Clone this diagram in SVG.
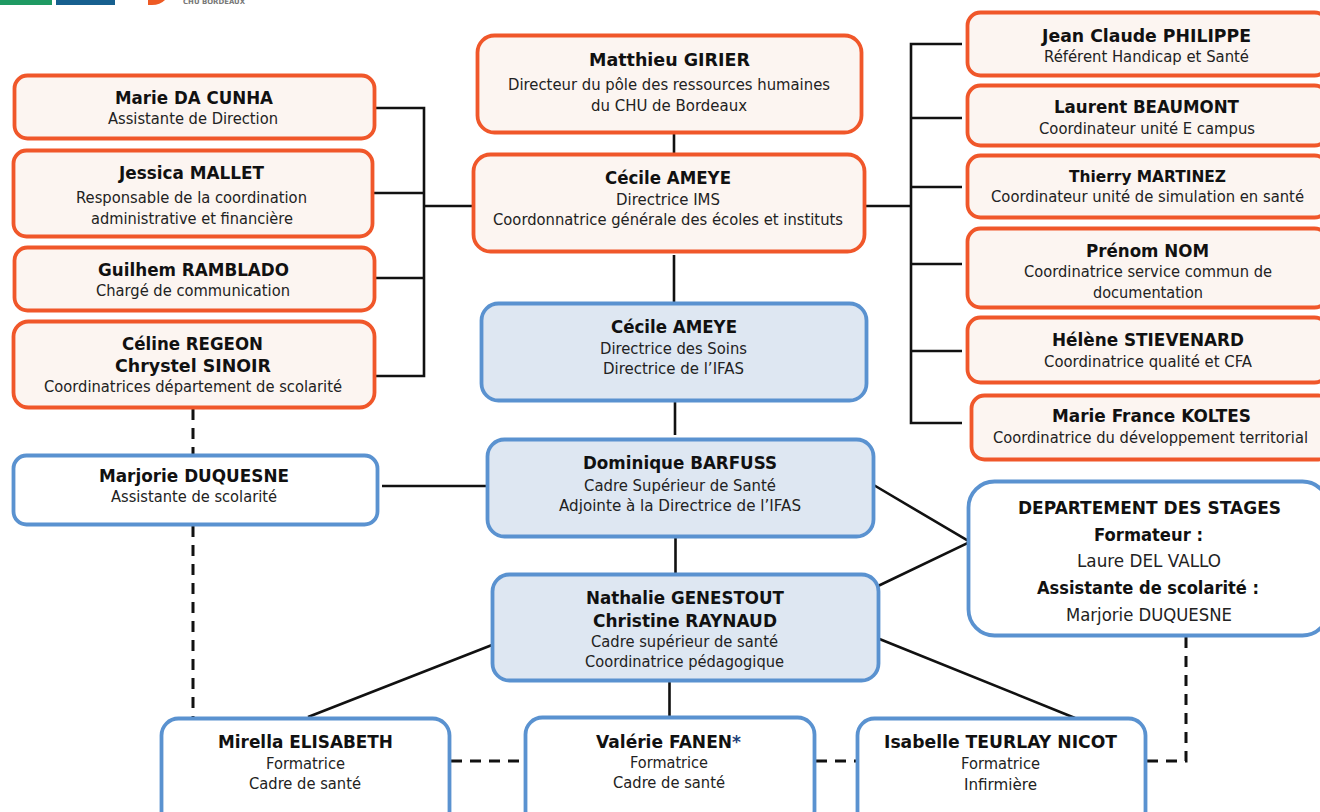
<svg xmlns="http://www.w3.org/2000/svg" width="1320" height="812" viewBox="0 0 1320 812">
<style>
text{font-family:"DejaVu Sans","Liberation Sans",sans-serif;text-anchor:middle;fill:#222}
.n{font-size:18px;font-weight:700;fill:#111}
.t{font-size:16px;font-weight:700;fill:#111}
.s{font-size:15px}
.r{font-size:17.500px}
.o{fill:#fcf5f1;stroke:#f0572a;stroke-width:3.800}
.b{fill:#dee7f2;stroke:#5a92d0;stroke-width:3.800}
.w{fill:#fff;stroke:#5a92d0;stroke-width:3.800}
#connectors path{fill:none;stroke:#111;stroke-width:2.600}
#connectors .d{stroke-width:3;stroke-dasharray:11 8}
</style>
<rect width="1320" height="812" fill="#fff"/>
<g id="logos">
<rect x="0" y="0" width="52" height="5" fill="#1f9a63"/>
<rect x="56" y="0" width="59" height="5" fill="#17608f"/>
<path d="M148 0H165Q160 5 152 5H148Z" fill="#ee5a24"/>
<text x="214" y="4" font-size="7" font-weight="700" textLength="62" lengthAdjust="spacingAndGlyphs" style="fill:#777">CHU BORDEAUX</text>
</g>
<g id="connectors">
<path d="M376 108H424V376H376M374 193H424M376 278H424M424 206H472"/>
<path d="M674 134V153M674 255V302M675 402V435M675.500 538V573M669.500 682V716"/>
<path d="M962 44H911V423H962M866 206H911M962 118H911M962 187H911M962 264H911M962 351H911"/>
<path d="M382 486H486"/>
<path d="M872 484L970 542L878 586M877 638L1075 718M492 645L308 717"/>
<path class="d" d="M193 409V454M193 526V717M451 761H524M816 761H856M1186 637V761H1147"/>
</g>
<g id="n-dacunha"><rect class="o" x="14.500" y="75.500" width="360" height="63" rx="13"/><text class="n" x="194" y="104" textLength="158" lengthAdjust="spacingAndGlyphs">Marie DA CUNHA</text><text class="s" x="193" y="124" textLength="170" lengthAdjust="spacingAndGlyphs">Assistante de Direction</text></g>
<g id="n-mallet"><rect class="o" x="13.500" y="150.500" width="359" height="86" rx="13"/><text class="n" x="191.500" y="179" textLength="145" lengthAdjust="spacingAndGlyphs">Jessica MALLET</text><text class="s" x="191.500" y="203" textLength="231" lengthAdjust="spacingAndGlyphs">Responsable de la coordination</text><text class="s" x="192" y="224" textLength="202" lengthAdjust="spacingAndGlyphs">administrative et financière</text></g>
<g id="n-ramblado"><rect class="o" x="14.500" y="247.500" width="360" height="63" rx="13"/><text class="n" x="193.500" y="276" textLength="191" lengthAdjust="spacingAndGlyphs">Guilhem RAMBLADO</text><text class="s" x="193" y="296" textLength="194" lengthAdjust="spacingAndGlyphs">Chargé de communication</text></g>
<g id="n-regeon"><rect class="o" x="13.500" y="321.500" width="361" height="86" rx="15"/><text class="n" x="192.500" y="350" textLength="141" lengthAdjust="spacingAndGlyphs">Céline REGEON</text><text class="n" x="193" y="372" textLength="156" lengthAdjust="spacingAndGlyphs">Chrystel SINOIR</text><text class="s" x="193" y="392" textLength="298" lengthAdjust="spacingAndGlyphs">Coordinatrices département de scolarité</text></g>
<g id="n-duquesne"><rect class="w" x="13.500" y="455.500" width="364" height="69" rx="13"/><text class="n" x="194" y="482" textLength="190" lengthAdjust="spacingAndGlyphs">Marjorie DUQUESNE</text><text class="s" x="194" y="502" textLength="166" lengthAdjust="spacingAndGlyphs">Assistante de scolarité</text></g>
<g id="n-girier"><rect class="o" x="477.500" y="35.500" width="384" height="97" rx="17"/><text class="n" x="669.500" y="66" textLength="161" lengthAdjust="spacingAndGlyphs">Matthieu GIRIER</text><text class="s" x="669" y="90" textLength="322" lengthAdjust="spacingAndGlyphs">Directeur du pôle des ressources humaines</text><text class="s" x="669" y="111" textLength="156" lengthAdjust="spacingAndGlyphs">du CHU de Bordeaux</text></g>
<g id="n-ameye-ims"><rect class="o" x="473.500" y="154.500" width="391" height="97" rx="17"/><text class="n" x="668" y="184" textLength="126" lengthAdjust="spacingAndGlyphs">Cécile AMEYE</text><text class="s" x="668" y="205" textLength="104" lengthAdjust="spacingAndGlyphs">Directrice IMS</text><text class="s" x="668" y="225" textLength="350" lengthAdjust="spacingAndGlyphs">Coordonnatrice générale des écoles et instituts</text></g>
<g id="n-ameye-ifas"><rect class="b" x="481.500" y="303.500" width="385" height="97" rx="17"/><text class="n" x="674" y="333" textLength="126" lengthAdjust="spacingAndGlyphs">Cécile AMEYE</text><text class="s" x="673.500" y="354" textLength="147" lengthAdjust="spacingAndGlyphs">Directrice des Soins</text><text class="s" x="673.500" y="374" textLength="141" lengthAdjust="spacingAndGlyphs">Directrice de l’IFAS</text></g>
<g id="n-barfuss"><rect class="b" x="487.500" y="439.500" width="386" height="97" rx="17"/><text class="n" x="680" y="469" textLength="194" lengthAdjust="spacingAndGlyphs">Dominique BARFUSS</text><text class="s" x="680" y="491" textLength="192" lengthAdjust="spacingAndGlyphs">Cadre Supérieur de Santé</text><text class="s" x="680" y="511" textLength="242" lengthAdjust="spacingAndGlyphs">Adjointe à la Directrice de l’IFAS</text></g>
<g id="n-genestout"><rect class="b" x="492.500" y="574.500" width="386" height="106" rx="17"/><text class="n" x="685" y="604" textLength="198" lengthAdjust="spacingAndGlyphs">Nathalie GENESTOUT</text><text class="n" x="685" y="627" textLength="184" lengthAdjust="spacingAndGlyphs">Christine RAYNAUD</text><text class="s" x="684.500" y="647" textLength="187" lengthAdjust="spacingAndGlyphs">Cadre supérieur de santé</text><text class="s" x="684.500" y="667" textLength="199" lengthAdjust="spacingAndGlyphs">Coordinatrice pédagogique</text></g>
<g id="n-philippe"><rect class="o" x="967.500" y="12.500" width="360" height="63" rx="13"/><text class="n" x="1146.500" y="42" textLength="209" lengthAdjust="spacingAndGlyphs">Jean Claude PHILIPPE</text><text class="s" x="1146.500" y="62" textLength="205" lengthAdjust="spacingAndGlyphs">Référent Handicap et Santé</text></g>
<g id="n-beaumont"><rect class="o" x="967.500" y="85.500" width="360" height="60" rx="13"/><text class="n" x="1146.500" y="113" textLength="185" lengthAdjust="spacingAndGlyphs">Laurent BEAUMONT</text><text class="s" x="1147" y="134" textLength="216" lengthAdjust="spacingAndGlyphs">Coordinateur unité E campus</text></g>
<g id="n-martinez"><rect class="o" x="967.500" y="155.500" width="360" height="62" rx="13"/><text class="t" x="1147.500" y="182" textLength="157" lengthAdjust="spacingAndGlyphs">Thierry MARTINEZ</text><text class="s" x="1147.500" y="202" textLength="313" lengthAdjust="spacingAndGlyphs">Coordinateur unité de simulation en santé</text></g>
<g id="n-nom"><rect class="o" x="967.500" y="228.500" width="360" height="79" rx="13"/><text class="n" x="1147.500" y="257" textLength="123" lengthAdjust="spacingAndGlyphs">Prénom NOM</text><text class="s" x="1148" y="277" textLength="248" lengthAdjust="spacingAndGlyphs">Coordinatrice service commun de</text><text class="s" x="1148" y="298" textLength="110" lengthAdjust="spacingAndGlyphs">documentation</text></g>
<g id="n-stievenard"><rect class="o" x="967.500" y="317.500" width="360" height="65" rx="13"/><text class="n" x="1148" y="346" textLength="192" lengthAdjust="spacingAndGlyphs">Hélène STIEVENARD</text><text class="s" x="1148" y="367" textLength="208" lengthAdjust="spacingAndGlyphs">Coordinatrice qualité et CFA</text></g>
<g id="n-koltes"><rect class="o" x="971.500" y="395.500" width="360" height="64" rx="13"/><text class="n" x="1151.500" y="422" textLength="199" lengthAdjust="spacingAndGlyphs">Marie France KOLTES</text><text class="s" x="1150.500" y="443" textLength="315" lengthAdjust="spacingAndGlyphs">Coordinatrice du développement territorial</text></g>
<g id="n-stages"><rect class="w" x="968.500" y="481.500" width="360" height="154" rx="26"/><text class="n" x="1149.500" y="514" textLength="263" lengthAdjust="spacingAndGlyphs">DEPARTEMENT DES STAGES</text><text class="n" x="1148.500" y="541" textLength="109" lengthAdjust="spacingAndGlyphs">Formateur :</text><text class="r" x="1149" y="567" textLength="144" lengthAdjust="spacingAndGlyphs">Laure DEL VALLO</text><text class="n" x="1148" y="594" textLength="222" lengthAdjust="spacingAndGlyphs">Assistante de scolarité :</text><text class="r" x="1149" y="621" textLength="166" lengthAdjust="spacingAndGlyphs">Marjorie DUQUESNE</text></g>
<g id="n-elisabeth"><rect class="w" x="161.500" y="718.500" width="288" height="110" rx="17"/><text class="n" x="305.500" y="748" textLength="175" lengthAdjust="spacingAndGlyphs">Mirella ELISABETH</text><text class="s" x="305.500" y="769" textLength="79" lengthAdjust="spacingAndGlyphs">Formatrice</text><text class="s" x="305" y="789" textLength="112" lengthAdjust="spacingAndGlyphs">Cadre de santé</text></g>
<g id="n-fanen"><rect class="w" x="525.500" y="717.500" width="289" height="110" rx="17"/><text class="n" x="668.500" y="748" textLength="145" lengthAdjust="spacingAndGlyphs">Valérie FANEN<tspan style="fill:#1f3f78">*</tspan></text><text class="s" x="669" y="768" textLength="78" lengthAdjust="spacingAndGlyphs">Formatrice</text><text class="s" x="669" y="788" textLength="112" lengthAdjust="spacingAndGlyphs">Cadre de santé</text></g>
<g id="n-teurlay"><rect class="w" x="857.500" y="718.500" width="288" height="110" rx="17"/><text class="n" x="1000.500" y="748" textLength="233" lengthAdjust="spacingAndGlyphs">Isabelle TEURLAY NICOT</text><text class="s" x="1000.500" y="769" textLength="79" lengthAdjust="spacingAndGlyphs">Formatrice</text><text class="s" x="1000.500" y="790" textLength="73" lengthAdjust="spacingAndGlyphs">Infirmière</text></g>
</svg>
